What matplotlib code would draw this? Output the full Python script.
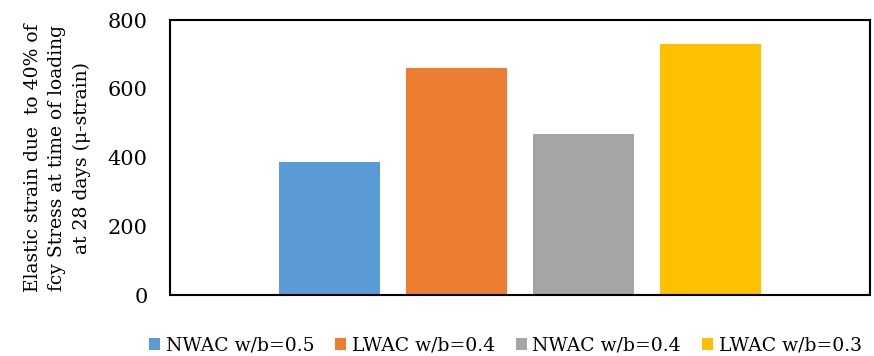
import matplotlib.pyplot as plt

plt.rcParams['font.family'] = ['DejaVu Serif']

# data
series = ['NWAC w/b=0.5', 'LWAC w/b=0.4', 'NWAC w/b=0.4', 'LWAC w/b=0.3']
values = [387, 660, 468, 730]
colors = ['#5B9BD5', '#ED7D31', '#A5A5A5', '#FFC000']
yticks = [0, 200, 400, 600, 800]

fig = plt.figure(figsize=(8.74, 3.56), dpi=100)
ax = fig.add_axes([0.1945, 0.1713, 0.801, 0.7725])

for i, (name, v, c) in enumerate(zip(series, values, colors)):
    ax.bar(i, v, width=0.795, color=c, label=name)

ax.set_xlim(-1.256, 4.256)
ax.set_ylim(0, 800)
ax.set_yticks(yticks)
ax.set_xticks([])
ax.tick_params(axis='y', length=0, labelsize=15, pad=16)
for s in ax.spines.values():
    s.set_linewidth(1.5)
    s.set_color('black')

ax.set_ylabel('Elastic strain due  to 40% of\nfcy Stress at time of loading\nat 28 days (\u03bc-strain)',
              fontsize=13.5, linespacing=1.45, labelpad=12)

fig.legend(loc='center', bbox_to_anchor=(0.578, 0.03), ncol=4, frameon=False,
           fontsize=13.5, handlelength=0.6, handleheight=0.6, handletextpad=0.3,
           columnspacing=1.1)

fig.savefig('out.png', dpi=100)
